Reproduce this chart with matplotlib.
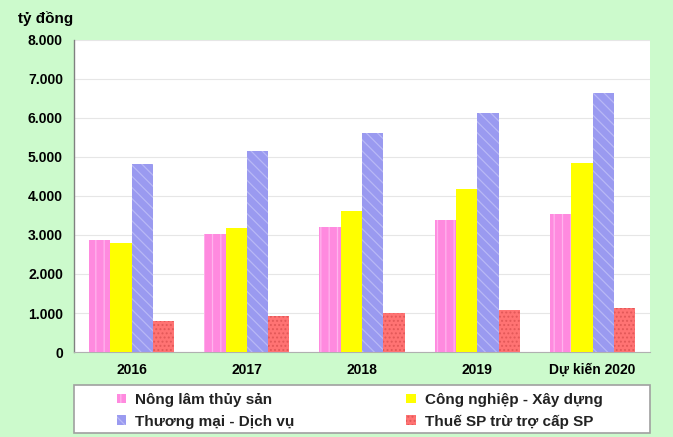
import numpy as np
import matplotlib
matplotlib.use('Agg')
import matplotlib.pyplot as plt
from matplotlib.patches import Rectangle

# Data (tỷ đồng)
years = ['2016', '2017', '2018', '2019', 'Dự kiến 2020']
nong_lam = [2870, 3030, 3200, 3390, 3540]
cong_nghiep = [2800, 3190, 3620, 4190, 4840]
thuong_mai = [4820, 5160, 5620, 6140, 6650]
thue_sp = [800, 920, 1010, 1080, 1120]

labels = ['Nông lâm thủy sản', 'Công nghiệp - Xây dựng',
          'Thương mại - Dịch vụ', 'Thuế SP trừ trợ cấp SP']

plt.rcParams['font.family'] = ['Liberation Sans', 'DejaVu Sans']
plt.rcParams['hatch.linewidth'] = 0.9

green = '#CCFACC'
fig = plt.figure(figsize=(6.73, 4.37), dpi=100, facecolor=green)
ax = fig.add_axes([0.110, 0.1945, 0.856, 0.714])
ax.set_facecolor('white')

x = np.arange(len(years))
w = 0.185
series = [nong_lam, cong_nghiep, thuong_mai, thue_sp]
faces = ['#FF8ADF', '#FFFF00', '#9A9AF0', '#FF7373']
hatches = ['||', None, '\\\\\\', '....']
hcolors = ['#FFB4EE', '#FFFF00', '#B8B8F6', '#E25858']

bars = []
for i, vals in enumerate(series):
    b = ax.bar(x + (i - 1.5) * w, vals, w, color=faces[i], hatch=hatches[i],
               edgecolor=hcolors[i], linewidth=0, zorder=3)
    bars.append(b)

ax.set_xlim(-0.5, len(years) - 0.5)
ax.set_ylim(0, 8000)
ax.set_yticks(range(0, 8001, 1000))
ax.set_yticklabels(['0'] + [f'{v // 1000}.000' for v in range(1000, 8001, 1000)])
ax.set_xticks(x)
ax.set_xticklabels(years)
ax.tick_params(length=0, labelsize=10, pad=8)
for t in ax.get_xticklabels() + ax.get_yticklabels():
    t.set_fontweight('bold')
ax.yaxis.grid(True, color='#E6E6E6', linewidth=0.8, zorder=0)
for s in ['top', 'right']:
    ax.spines[s].set_visible(False)
ax.spines['left'].set_color('#808080')
ax.spines['bottom'].set_color('#B0B0B0')
ax.spines['left'].set_linewidth(1.0)

fig.text(0.027, 0.947, 'tỷ đồng', fontsize=11, fontweight='bold')

# legend box
fig.patches.append(Rectangle((0.110, 0.009), 0.856, 0.110, transform=fig.transFigure,
                             facecolor='white', edgecolor='#A0A0A0', linewidth=1.2,
                             zorder=1))
order = [0, 2, 1, 3]
leg = fig.legend([bars[i] for i in order], [labels[i] for i in order], ncol=2,
                 loc='center left', bbox_to_anchor=(0.174, 0.060),
                 borderaxespad=0, borderpad=0, frameon=False, fontsize=11,
                 handlelength=0.6, handleheight=0.6, handletextpad=0.6,
                 labelspacing=0.5, columnspacing=7.3)
for t in leg.get_texts():
    t.set_fontweight('bold')
    t.set_color('#222222')

fig.savefig('out.png', dpi=100, facecolor=green)
